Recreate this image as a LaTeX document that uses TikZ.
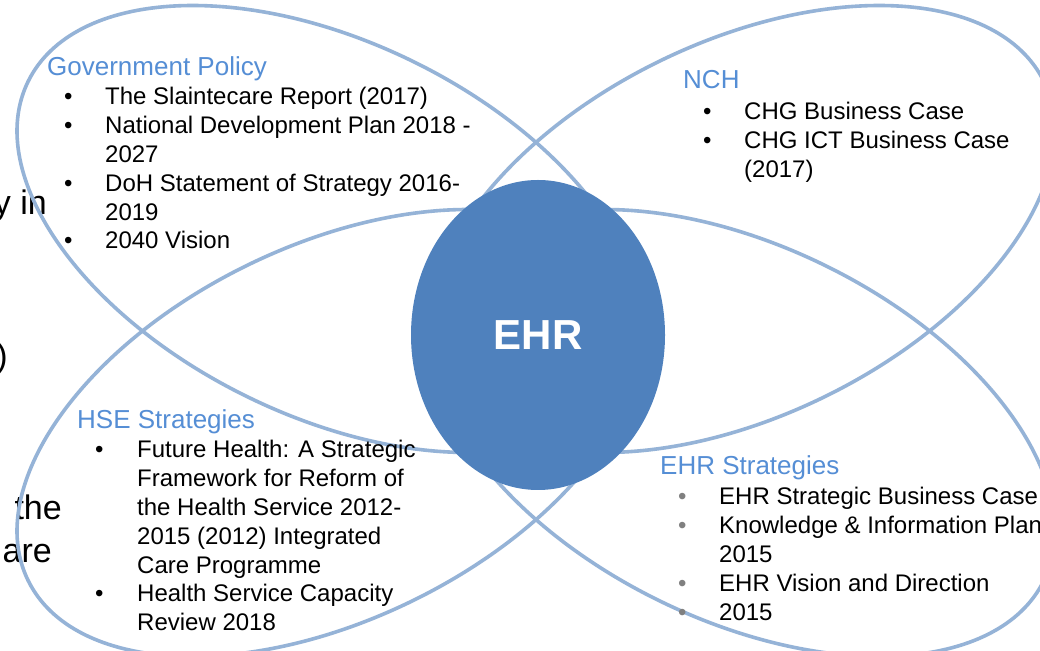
\documentclass[tikz,border=0pt]{standalone}
\usepackage{fontspec}
\setmainfont{Liberation Sans}
\usepackage{tikz}
\usetikzlibrary{shapes.geometric}

\definecolor{petalblue}{RGB}{149,179,215}
\definecolor{coreblue}{RGB}{79,129,189}
\definecolor{headblue}{RGB}{85,142,213}
\definecolor{dotgrey}{RGB}{128,128,128}
\newcommand{\greydot}{\leavevmode\textcolor{dotgrey}{\textbullet}}

\begin{document}
\begin{tikzpicture}[x=1pt, y=1pt,
  petal/.style={draw=petalblue, line width=3.6pt, ellipse, inner sep=0pt,
    minimum width=672pt, minimum height=374pt},
  core/.style={fill=coreblue, ellipse, inner sep=0pt, minimum width=254pt,
    minimum height=310pt, text=white, font=\fontsize{42}{50}\selectfont\bfseries},
  head/.style={anchor=base west, inner sep=0pt, text=headblue,
    font=\fontsize{26}{31}\selectfont},
  body/.style={anchor=base west, inner sep=0pt, font=\fontsize{24}{28.8}\selectfont},
  back/.style={anchor=base east, inner sep=0pt, font=\fontsize{34}{41}\selectfont}]
\useasboundingbox (0,0) rectangle (1040,650);
\clip (0,0) rectangle (1040,650);
\fill[white] (0,0) rectangle (1040,650);

% text behind
\node[back] (bk1) at (47, 435) {y in};
\node[back] (bk2) at (8, 282) {)};
\node[back] (bk3) at (62, 130) {the};
\node[back] (bk4) at (52, 87) {are};

% ellipses
\node[petal, rotate=-26] (gov) at (330, 421) {};
\node[petal, rotate=26] (nch) at (742, 421) {};
\node[petal, rotate=26] (hse) at (330, 217) {};
\node[petal, rotate=-26] (ehrs) at (742, 217) {};

\node[core] (ehr) at (538, 315) {EHR};

% titles
\node[head] (govT) at (47, 574) {Government Policy};
\node[head] (nchT) at (683, 561) {NCH};
\node[head] (hseT) at (77, 221) {HSE Strategies};
\node[head] (ehrT) at (660, 175) {EHR Strategies};

% lists
\node[body] (govL) at (64, 545) {\begin{tabular}[t]{@{}p{41pt}@{}l@{}}
\textbullet & The Slaintecare Report (2017)\\
\textbullet & National Development Plan 2018 -\\
 & 2027\\
\textbullet & DoH Statement of Strategy 2016-\\
 & 2019\\
\textbullet & 2040 Vision
\end{tabular}};
\node[body] (nchL) at (703, 530) {\begin{tabular}[t]{@{}p{41pt}@{}l@{}}
\textbullet & CHG Business Case\\
\textbullet & CHG ICT Business Case\\
 & (2017)
\end{tabular}};
\node[body] (hseL) at (95, 192) {\begin{tabular}[t]{@{}p{42pt}@{}l@{}}
\textbullet & Future Health: A Strategic\\
 & Framework for Reform of\\
 & the Health Service 2012-\\
 & 2015 (2012) Integrated\\
 & Care Programme\\
\textbullet & Health Service Capacity\\
 & Review 2018
\end{tabular}};
\node[body] (ehrL) at (678, 145) {\begin{tabular}[t]{@{}p{41pt}@{}l@{}}
\greydot & EHR Strategic Business Case\\
\greydot & Knowledge \& Information Plan\\
 & 2015\\
\greydot & EHR Vision and Direction\\
\greydot & 2015
\end{tabular}};
\end{tikzpicture}
\end{document}
